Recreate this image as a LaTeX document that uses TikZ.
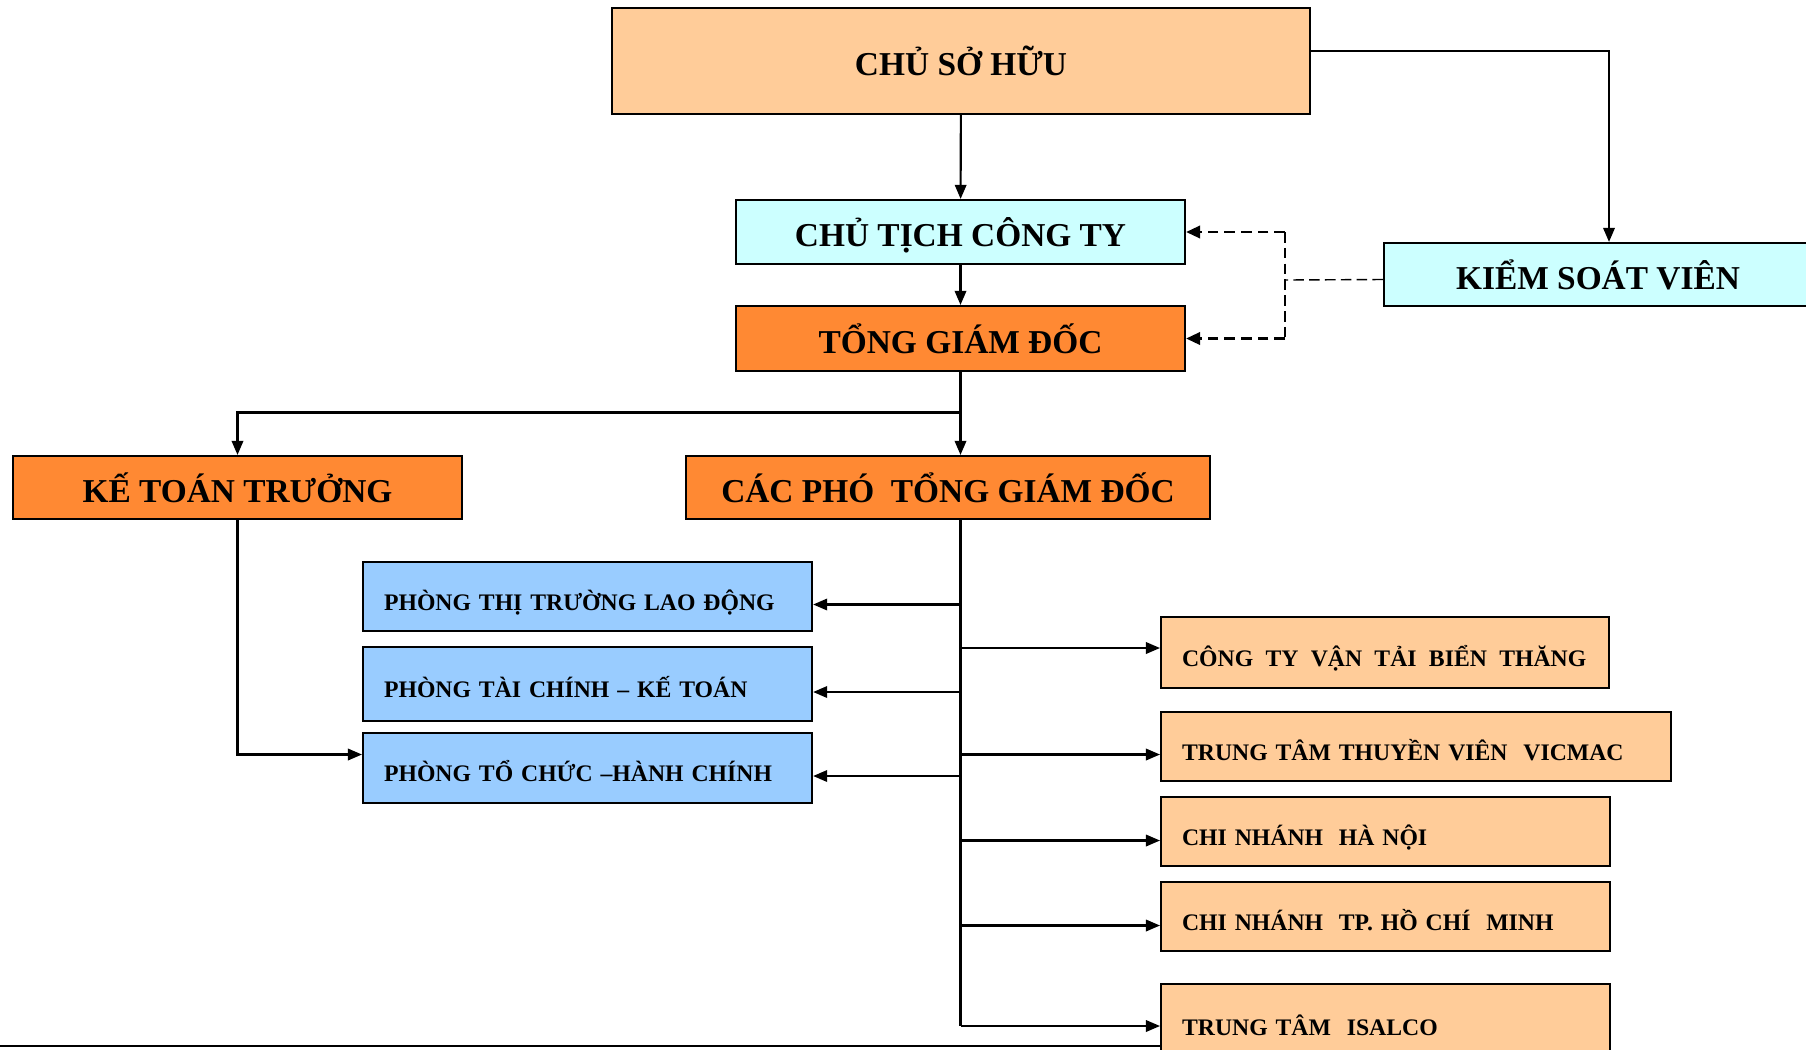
\documentclass[tikz,border=0pt]{standalone}
\usepackage{fontspec}
\setmainfont{Liberation Serif}
\usetikzlibrary{arrows.meta}

\definecolor{peachbg}{RGB}{255,204,153}
\definecolor{cyanbg}{RGB}{204,255,255}
\definecolor{orangebg}{RGB}{255,137,51}
\definecolor{bluebg}{RGB}{153,204,255}

\newcommand{\headtxt}{\fontsize{19}{22}\selectfont\bfseries}
\newcommand{\unittxt}{\fontsize{13.5}{16}\selectfont\bfseries}

\begin{document}
\begin{tikzpicture}[line width = 1.2pt,
    head/.style = {draw, line width = 1.2pt, font = \headtxt, inner sep = 0pt,
                   text height = 16.5pt, text depth = 0pt},
    unit/.style = {draw, line width = 1.2pt, font = \unittxt, align = left, anchor = west,
                   inner xsep = 0.42cm, inner ysep = 0pt, text height = 15.4pt, text depth = 0pt},
    link/.style = {-{Triangle[length = 8pt, width = 6.5pt]}},
    dashlink/.style = {line width = 0.8pt, dash pattern = on 6pt off 3pt},
    dasharrow/.style = {line width = 1.6pt, dash pattern = on 6pt off 3.5pt,
                        -{Triangle[length = 8pt, width = 7pt]}}]
      \useasboundingbox (0, 0) rectangle (36.12, -20.98);

      \node [head, fill = peachbg, minimum width = 13.96cm, minimum height = 2.12cm] (owner) at (19.22, -1.22){CHỦ SỞ HỮU};
      \node [head, fill = cyanbg, minimum width = 8.98cm, minimum height = 1.28cm] (chair) at (19.21, -4.64){CHỦ TỊCH CÔNG TY};
      \node [head, fill = orangebg, minimum width = 8.98cm, minimum height = 1.3cm] (ceo) at (19.21, -6.77){TỔNG GIÁM ĐỐC};
      \node [head, fill = cyanbg, minimum width = 8.56cm, minimum height = 1.26cm] (auditor) at (31.96, -5.49){KIỂM SOÁT VIÊN};
      \node [head, fill = orangebg, minimum width = 8.98cm, minimum height = 1.26cm] (chiefacc) at (4.75, -9.75){KẾ TOÁN TRƯỞNG};
      \node [head, fill = orangebg, minimum width = 10.48cm, minimum height = 1.26cm] (deputy) at (18.96, -9.75){CÁC PHÓ\ \ TỔNG GIÁM ĐỐC};

      \node [unit, fill = bluebg, text width = 8.14cm, minimum height = 1.38cm] (labour) at (7.24, -11.93){PHÒNG THỊ TRƯỜNG LAO ĐỘNG};
      \node [unit, fill = bluebg, text width = 8.14cm, minimum height = 1.48cm] (finance) at (7.24, -13.68){PHÒNG TÀI CHÍNH – KẾ TOÁN};
      \node [unit, fill = bluebg, text width = 8.14cm, minimum height = 1.4cm] (admin) at (7.24, -15.36){PHÒNG TỔ CHỨC –HÀNH CHÍNH};

      \node [unit, fill = peachbg, text width = 8.12cm, minimum height = 1.42cm] (shipping) at (23.2, -13.05){\mbox{CÔNG\hspace{7pt}TY\hspace{7pt}VẬN\hspace{7pt}TẢI\hspace{7pt}BIỂN\hspace{7pt}THĂNG}};
      \node [unit, fill = peachbg, text width = 9.36cm, minimum height = 1.38cm] (crew) at (23.2, -14.93){TRUNG TÂM THUYỀN VIÊN\ \ VICMAC};
      \node [unit, fill = peachbg, text width = 8.14cm, minimum height = 1.38cm] (hanoi) at (23.2, -16.63){CHI NHÁNH\ \ HÀ NỘI};
      \node [unit, fill = peachbg, text width = 8.14cm, minimum height = 1.38cm] (hcm) at (23.2, -18.33){CHI NHÁNH\ \ TP. HỒ CHÍ\ \ MINH};
      \node [unit, fill = peachbg, text width = 8.14cm, minimum height = 1.5cm] (isalco) at (23.2, -20.43){TRUNG TÂM\ \ ISALCO};

      \coordinate (split) at (19.21, -8.25);
      \coordinate (dashx) at (25.7, -5.6);
      \coordinate (pageleft) at (0, -20.92);

      \draw [link] (owner) -- (chair);
      \draw [link] (chair) -- (ceo);
      \draw [link] ([yshift = 0.2cm]owner.east) -| ([xshift = 0.22cm]auditor.north);

      \draw [dashlink] ([yshift = -0.1cm]auditor.west) -- (dashx);
      \draw [dashlink] (chair.east -| dashx) -- (ceo.east -| dashx);
      \draw [dasharrow] (chair.east -| dashx) -- (chair.east);
      \draw [dasharrow] (ceo.east -| dashx) -- (ceo.east);

      \draw (ceo.south) -- (split);
      \draw [link] (split) -| (chiefacc.north);
      \draw [link] (split) -- (split |- deputy.north);

      \foreach \u in {labour, finance, admin}{
        \path ([yshift = -0.16cm]\u.east) coordinate (\u-in);
        \draw [link] (split |- \u-in) -- (\u-in);
      }
      \foreach \u/\dy in {shipping/0.09, crew/-0.16, hanoi/-0.18, hcm/-0.18, isalco/-0.09}{
        \path ([yshift = \dy cm]\u.west) coordinate (\u-in);
        \draw [link] (split |- \u-in) -- (\u-in);
      }
      \draw (split |- deputy.south) -- (split |- isalco-in);

      \draw [link] (chiefacc.south) |- ([yshift = 0.27cm]admin.west);
      \draw [line width = 1.6pt] (pageleft) -- (isalco.west |- pageleft);
\end{tikzpicture}
\end{document}
